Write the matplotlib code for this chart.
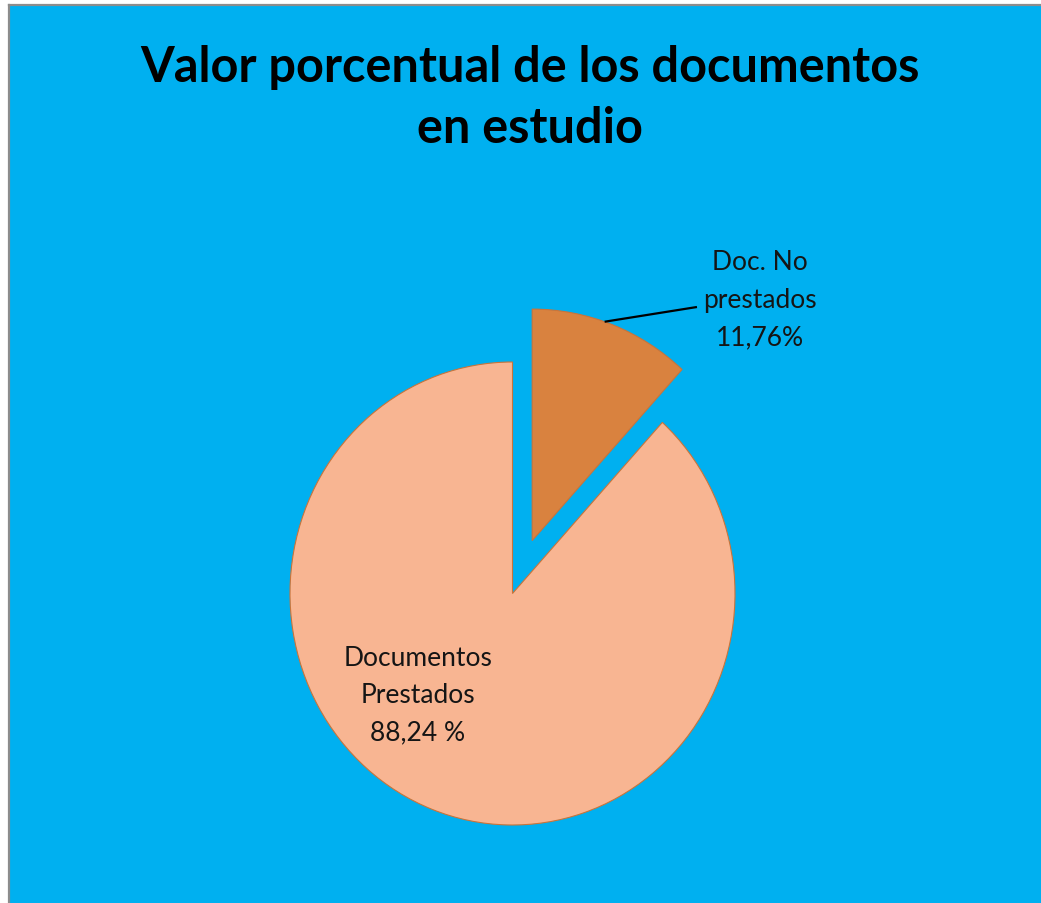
import matplotlib
matplotlib.use("Agg")
import matplotlib.pyplot as plt
import numpy as np
from matplotlib.patches import Rectangle
from matplotlib.lines import Line2D

# datos del grafico
categorias = ["Doc. No\nprestados", "Documentos\nPrestados"]
porcentajes = [11.76, 88.24]
etiquetas_valor = ["11,76%", "88,24 %"]
colores = ["#D9823F", "#F8B592"]
separacion = [0.245, 0.0]

titulo = "Valor porcentual de los documentos\nen estudio"

fondo = "#00B0F0"
borde = "#8C8C8C"

W, H = 1041, 904
fig = plt.figure(figsize=(W / 100, H / 100), dpi=100, facecolor="white")

# zona azul con borde gris a la izquierda y arriba
fig.add_artist(Rectangle((9 / W, 0), (W - 9) / W, (H - 6) / H,
                         transform=fig.transFigure, facecolor=fondo,
                         edgecolor="none", zorder=-10))
fig.add_artist(Line2D([9 / W, 9 / W], [0, 1 - 6 / H], transform=fig.transFigure,
                      color=borde, lw=1.6, zorder=-9))
fig.add_artist(Line2D([9 / W, 1], [1 - 6 / H, 1 - 6 / H], transform=fig.transFigure,
                      color=borde, lw=1.6, zorder=-9))

ax = fig.add_axes([0, 0, 1, 1])
ax.patch.set_visible(False)

wedges, _ = ax.pie(porcentajes, colors=colores, explode=separacion,
                   startangle=90, counterclock=False, radius=1.0,
                   wedgeprops=dict(edgecolor="#C9743A", linewidth=0.8))

# el grafico original esta un poco estirado en vertical
ax.set_aspect("auto")
ax.set_xlim(-512.5 / 222.5, (W - 512.5) / 222.5)
ax.set_ylim((594.5 - H) / 231.5, 594.5 / 231.5)
ax.axis("off")

# etiquetas
txt = dict(family="Lato", fontsize=19, color="#151515",
           ha="center", va="center", multialignment="center", linespacing=1.62)

w0 = wedges[0]
ang = np.deg2rad(71)
cx, cy = w0.center
ax.plot([cx + np.cos(ang) * w0.r, 0.829], [cy + np.sin(ang) * w0.r, 1.2376],
        color="black", lw=1.6, solid_capstyle="butt")
ax.text(1.112, 1.272, categorias[0] + "\n" + etiquetas_valor[0], **txt)
ax.text(-0.425, -0.438, categorias[1] + "\n" + etiquetas_valor[1], **txt)

fig.text(530 / W, 1 - 45 / H, titulo, family="Lato", fontweight="bold",
         fontsize=35, ha="center", va="top", multialignment="center",
         linespacing=1.42, color="black")

fig.savefig("out.png", dpi=100, facecolor="white")
